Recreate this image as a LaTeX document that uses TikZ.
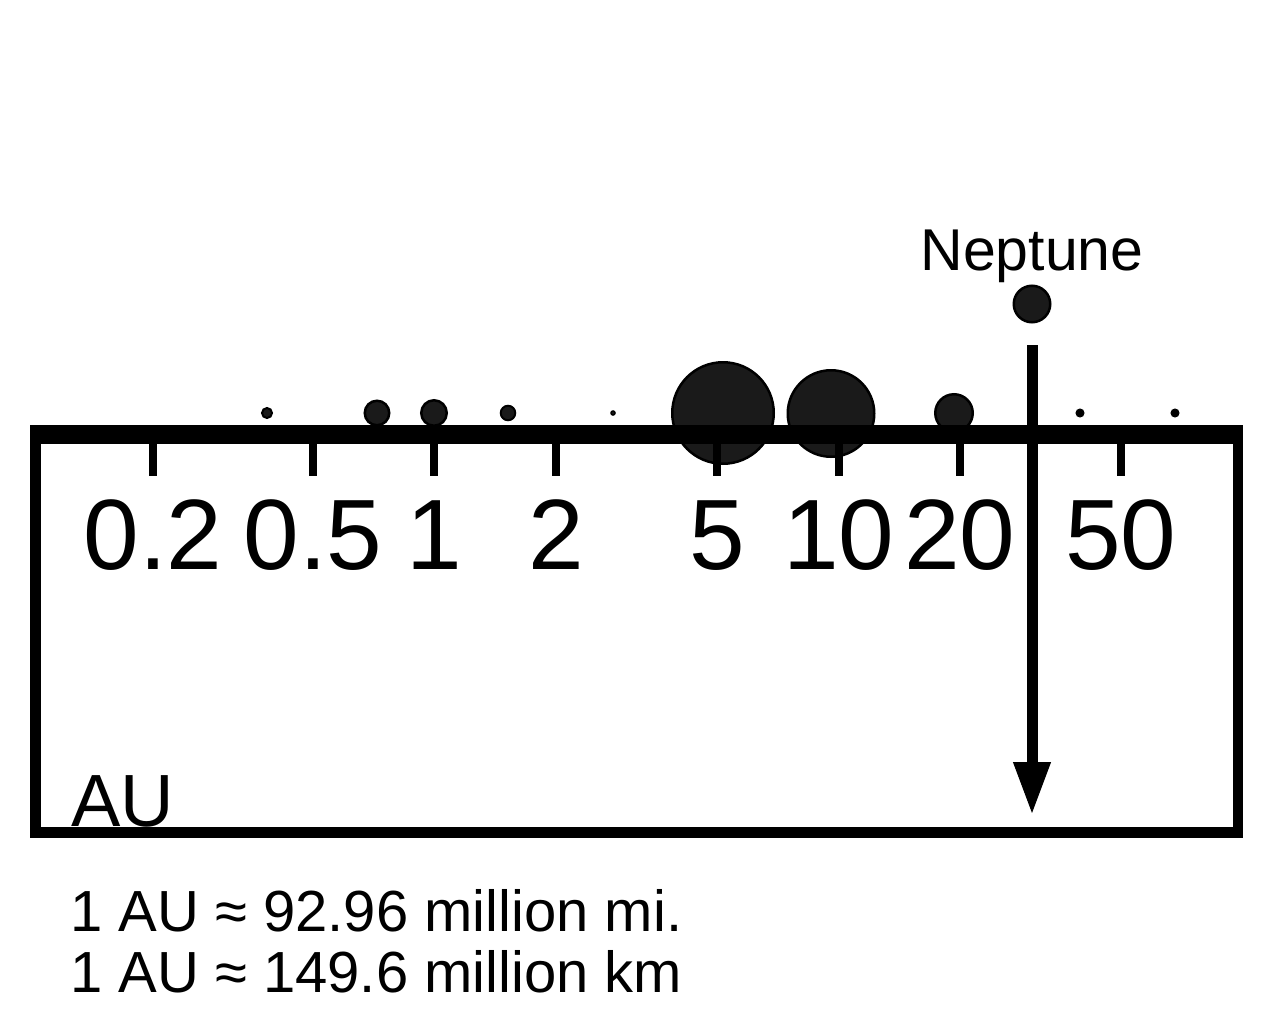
\documentclass[tikz,border=0pt]{standalone}
\usepackage{fontspec}
\setmainfont{Liberation Sans}
\usetikzlibrary{arrows.meta}
\definecolor{planetgray}{HTML}{1A1A1A}
\begin{document}
\begin{tikzpicture}[x=1pt,y=-1pt,
  planet/.style={circle,fill=planetgray,draw=black,line width=2.5pt,inner sep=0pt,minimum size=#1},
  dotplanet/.style={circle,fill=black,draw=black,line width=1pt,inner sep=0pt,minimum size=#1},
  ticklabel/.style={anchor=base,inner sep=0pt,font=\fontsize{100}{100}\selectfont},
  tickmark/.style={line width=8pt},
  plaintext/.style={anchor=base west,inner sep=0pt,font=\fontsize{58}{58}\selectfont}]
\useasboundingbox[fill=white] (0,0) rectangle (1272,1033);
% planets
\node[planet=10pt,line width=2pt] (mercury) at (267,413) {};
\node[planet=24.5pt] (venus) at (377,413) {};
\node[planet=25.5pt] (earth) at (434,413) {};
\node[planet=14.5pt,line width=2pt] (mars) at (508,413) {};
\node[planet=4pt,line width=1.5pt] (ceres) at (613,413) {};
\node[planet=101.5pt] (jupiter) at (723,413) {};
\node[planet=86.5pt] (saturn) at (831,413.5) {};
\node[planet=37.5pt] (uranus) at (954,413) {};
\node[planet=36.5pt] (neptune) at (1032,304) {};
\node[dotplanet=8pt] (pluto) at (1080,413) {};
\node[dotplanet=8pt] (eris) at (1175,413) {};
% axis and box
\draw[line width=19pt] (30,434) -- (1243,434);
\draw[line width=10.5pt,line join=miter] (35.3,434) -- (35.3,832.5) -- (1238,832.5) -- (1238,434);
% ticks
\foreach \x/\lab/\nm in {153/0.2/t1,313/0.5/t2,434/1/t3,556/2/t4,717/5/t5,839/10/t6,960/20/t7,1121/50/t8}{
  \draw[tickmark] (\x,434) -- (\x,476);
  \node[ticklabel] (\nm) at (\x,569) {\lab};
}
% Neptune label and arrow
\node[anchor=base,inner sep=0pt,font=\fontsize{59}{59}\selectfont] (neplabel) at (1032,270) {Neptune};
\coordinate (arrtop) at (1032,345);
\coordinate (arrtip) at (1032,813);
\draw[line width=11pt,-{Triangle[width=38pt,length=51pt,line width=1pt]}] (arrtop) -- (arrtip);
% texts
\node[anchor=base west,inner sep=0pt,font=\fontsize{74}{74}\selectfont] (au) at (71,826) {AU};
\node[plaintext] (line1) at (70,931) {1 AU ≈ 92.96 million mi.};
\node[plaintext] (line2) at (70,992) {1 AU ≈ 149.6 million km};
\end{tikzpicture}
\end{document}
